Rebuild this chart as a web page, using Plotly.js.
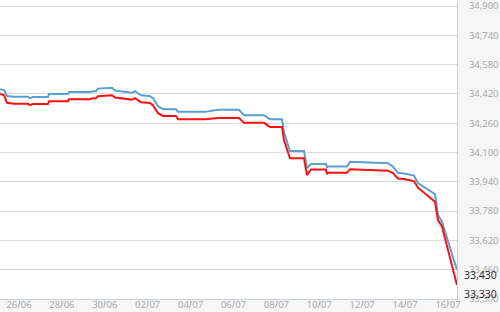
<!DOCTYPE html>
<html>
<head>
<meta charset="utf-8">
<script src="https://cdn.plot.ly/plotly-3.0.1.min.js"></script>
<style>
html,body{margin:0;padding:0;background:#f6f6f6;}
#chart{width:500px;height:312px;}
</style>
</head>
<body>
<div id="chart"></div>
<script>
// Timestamps (shared by both series)
const times = [
  "2019-06-25 02:44","2019-06-25 07:13","2019-06-25 10:34","2019-06-25 18:25",
  "2019-06-26 10:04","2019-06-26 12:19","2019-06-26 15:40","2019-06-27 08:27",
  "2019-06-27 09:34","2019-06-28 06:50","2019-06-28 07:56","2019-06-29 07:26",
  "2019-06-29 10:48","2019-06-29 14:09","2019-06-29 16:23","2019-06-30 08:04",
  "2019-06-30 11:25","2019-07-01 06:26","2019-07-01 09:47","2019-07-01 16:31",
  "2019-07-02 02:35","2019-07-02 05:56","2019-07-02 11:32","2019-07-02 17:07",
  "2019-07-03 07:40","2019-07-03 09:54","2019-07-04 16:07","2019-07-05 06:40",
  "2019-07-06 06:10","2019-07-06 11:45","2019-07-07 10:08","2019-07-07 16:50",
  "2019-07-08 06:16","2019-07-08 08:31","2019-07-08 15:13","2019-07-09 06:53",
  "2019-07-09 10:14","2019-07-09 14:43","2019-07-10 07:30","2019-07-10 08:37",
  "2019-07-10 09:44","2019-07-11 07:00","2019-07-11 10:22","2019-07-13 04:52",
  "2019-07-13 10:28","2019-07-13 16:04","2019-07-13 22:47","2019-07-14 09:58",
  "2019-07-14 14:26","2019-07-15 09:28","2019-07-15 12:49","2019-07-15 17:17",
  "2019-07-16 10:05"
];
// Upper series (blue)
const blueValues = [
  34446,34441,34409,34405,34405,34397,34403,34403,34419,34419,34430,34430,
  34435,34435,34449,34454,34438,34427,34435,34413,34408,34397,34353,34337,
  34337,34322,34322,34333,34333,34304,34304,34282,34282,34211,34108,34108,
  34015,34037,34037,34020,34023,34023,34049,34042,34022,33989,33985,33974,
  33933,33873,33758,33722,33458
];
// Lower series (red)
const redValues = [
  34421,34413,34372,34367,34367,34359,34365,34365,34380,34380,34391,34391,
  34397,34397,34408,34413,34400,34389,34397,34375,34370,34359,34315,34300,
  34300,34282,34282,34289,34289,34262,34262,34240,34240,34168,34069,34069,
  33977,34007,34007,33982,33990,33990,34009,34001,33988,33958,33955,33944,
  33908,33831,33731,33696,33376
];
// Axis ticks
const yTicks = [33300,33460,33620,33780,33940,34100,34260,34420,34580,34740,34900];
const xTicks = ["2019-06-26","2019-06-28","2019-06-30","2019-07-02","2019-07-04","2019-07-06",
                "2019-07-08","2019-07-10","2019-07-12","2019-07-14","2019-07-16"];
// Last-price labels
const lastLabels = [
  {value: 33430, text: "33,430"},
  {value: 33330, text: "33,330"}
];

const traces = [
  {x: times, y: blueValues, type: 'scatter', mode: 'lines',
   line: {color: '#5aa0d0', width: 2}, hoverinfo: 'skip'},
  {x: times, y: redValues, type: 'scatter', mode: 'lines',
   line: {color: '#ff1010', width: 2}, hoverinfo: 'skip'}
];

const tickFont = {family: '"Open Sans", sans-serif', size: 9.5, color: '#a4a4a4'};

const layout = {
  width: 500, height: 312,
  margin: {l: 0, r: 43, t: 0, b: 13, pad: 0},
  paper_bgcolor: '#f6f6f6',
  plot_bgcolor: '#ffffff',
  showlegend: false,
  font: tickFont,
  xaxis: {
    type: 'date',
    range: [times[0], times[times.length - 1]],
    tickvals: xTicks,
    tickformat: '%d/%m',
    ticks: 'outside', ticklen: 5, tickcolor: '#c8d0d8',
    ticklabelstandoff: -8,
    ticklabeloverflow: 'allow',
    showgrid: false, zeroline: false,
    showline: true, linecolor: '#c8d0d8', linewidth: 1,
    tickfont: tickFont
  },
  yaxis: {
    side: 'right',
    range: [33300, 34933],
    tickvals: yTicks,
    tickformat: ',d',
    ticks: '', ticklabelstandoff: 9,
    ticklabeloverflow: 'allow',
    showgrid: true, gridcolor: '#dcdcdc', gridwidth: 1,
    zeroline: false,
    showline: true, linecolor: '#cccccc', linewidth: 1,
    tickfont: tickFont
  },
  annotations: lastLabels.map(l => ({
    xref: 'paper', yref: 'y', x: 1, y: l.value,
    xanchor: 'left', yanchor: 'middle', xshift: 5,
    text: l.text, showarrow: false,
    font: {family: '"Open Sans", sans-serif', size: 10.5, color: '#1e1e28'}
  }))
};

Plotly.newPlot('chart', traces, layout, {staticPlot: true, displayModeBar: false});
</script>
</body>
</html>
